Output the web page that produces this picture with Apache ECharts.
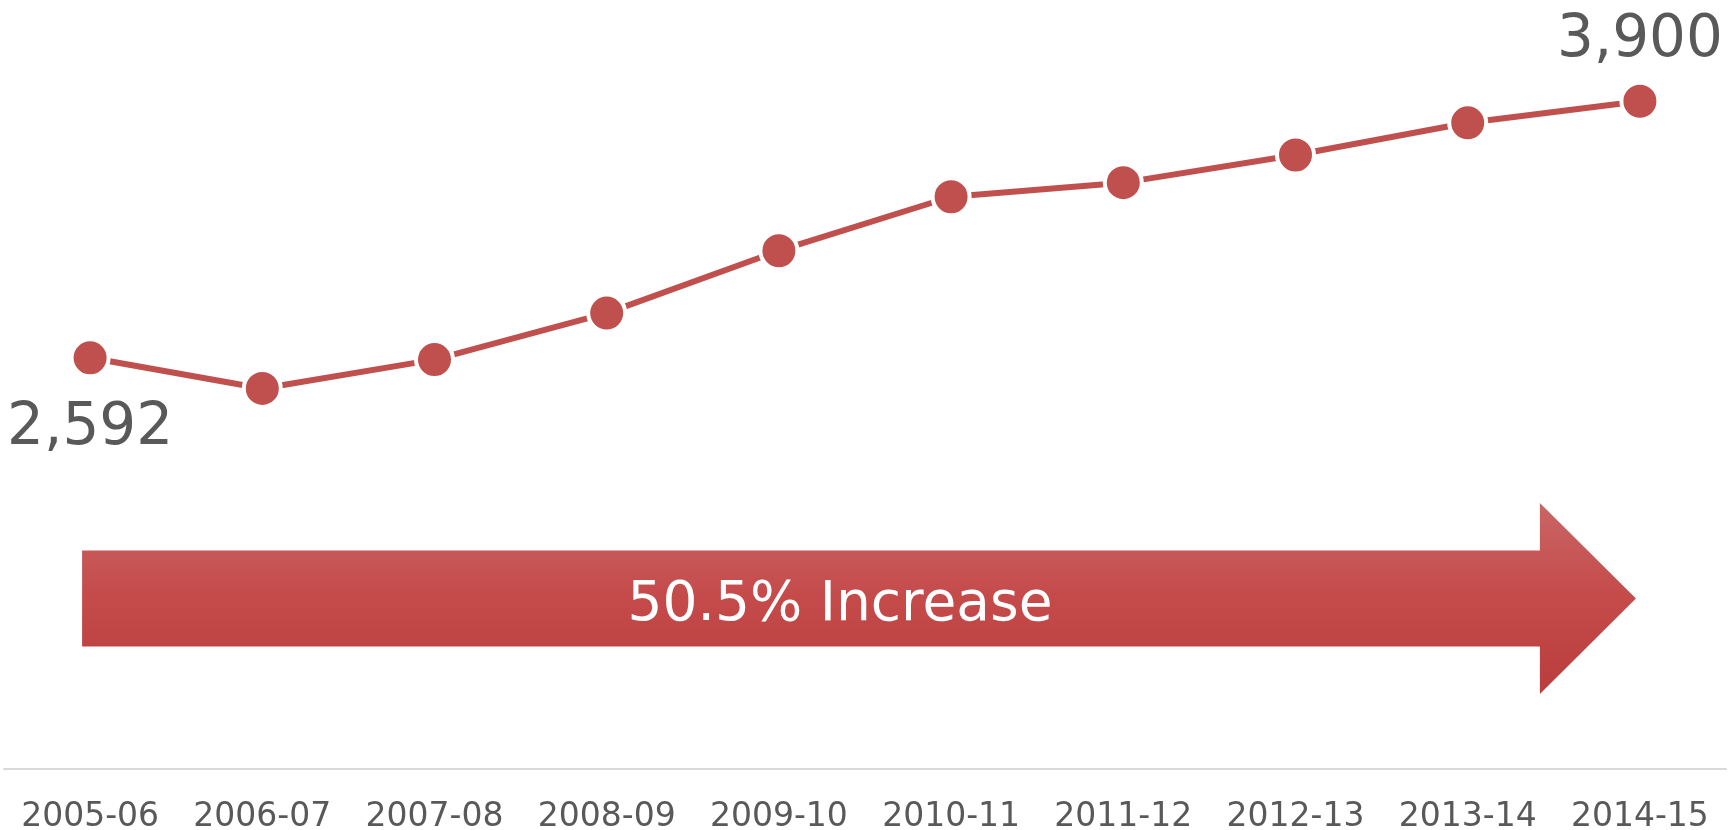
<!DOCTYPE html>
<html>
<head>
<meta charset="utf-8">
<title>Enrollment growth 2005-06 to 2014-15</title>
<script src="https://cdn.jsdelivr.net/npm/echarts@6/dist/echarts.min.js"></script>
<style>
  html, body { margin: 0; padding: 0; background: #ffffff; }
  #chart { width: 1735px; height: 830px; }
</style>
</head>
<body>
<div id="chart"></div>
<script>
// School years on the category axis
const years = ['2005-06', '2006-07', '2007-08', '2008-09', '2009-10',
               '2010-11', '2011-12', '2012-13', '2013-14', '2014-15'];

// Yearly totals
const totals = [2592, 2436, 2583, 2820, 3138, 3413, 3485, 3626, 3790, 3900];

const RED = '#C0504D';
const GREY_TEXT = '#595959';
const FONT = '"DejaVu Sans", "Liberation Sans", sans-serif';

const fmt = v => v.toLocaleString('en-US');

// Percent change from the first year to the last one
const first = totals[0];
const last = totals[totals.length - 1];
const pctChange = ((last - first) / first * 100).toFixed(1) + '% Increase';

// Only the end points carry a value label
const seriesData = totals.map((v, i) => {
  if (i === 0) {
    return { value: v, label: { show: true, position: 'bottom', distance: 22 } };
  }
  if (i === totals.length - 1) {
    return { value: v, label: { show: true, position: 'top', distance: 11 } };
  }
  return v;
});

const chart = echarts.init(document.getElementById('chart'), null, { renderer: 'canvas' });

const option = {
  animation: false,
  backgroundColor: '#ffffff',
  grid: {
    left: 4, right: 9, top: 0, bottom: 61,
    containLabel: false,
    outerBoundsMode: 'none'
  },
  xAxis: {
    type: 'category',
    data: years,
    boundaryGap: true,
    axisLine: { show: true, lineStyle: { color: '#D9D9D9', width: 2 } },
    axisTick: { show: false },
    axisLabel: {
      color: GREY_TEXT,
      fontFamily: FONT,
      fontSize: 33,
      margin: 32,
      interval: 0
    },
    splitLine: { show: false }
  },
  yAxis: {
    type: 'value',
    min: 496,
    max: 4416,
    show: false,
    splitLine: { show: false }
  },
  series: [{
    type: 'line',
    data: seriesData,
    symbol: 'circle',
    symbolSize: 37,
    lineStyle: { color: RED, width: 6 },
    itemStyle: { color: RED, borderColor: '#ffffff', borderWidth: 4 },
    label: {
      show: false,
      color: GREY_TEXT,
      fontFamily: FONT,
      fontSize: 58,
      formatter: p => fmt(p.value)
    },
    emphasis: { disabled: true },
    z: 5
  }]
};

chart.setOption(option);

// Block arrow spanning the first to the last year, with the percent change
function drawArrow() {
  const x0 = chart.convertToPixel({ xAxisIndex: 0 }, years[0]) - 8;
  const tip = chart.convertToPixel({ xAxisIndex: 0 }, years[years.length - 1]) - 4;
  const midY = 598.5;
  const bodyHalf = 48;
  const headHalf = 95.5;
  const headLen = 96;
  const neck = tip - headLen;
  chart.setOption({
    graphic: [
      {
        type: 'polygon',
        z: 1,
        shape: {
          points: [
            [x0, midY - bodyHalf],
            [neck, midY - bodyHalf],
            [neck, midY - headHalf],
            [tip, midY],
            [neck, midY + headHalf],
            [neck, midY + bodyHalf],
            [x0, midY + bodyHalf]
          ]
        },
        style: {
          fill: new echarts.graphic.LinearGradient(0, 0, 0, 1, [
            { offset: 0, color: '#C96665' },
            { offset: 0.5, color: '#C54A4A' },
            { offset: 1, color: '#B93D3D' }
          ])
        }
      },
      {
        type: 'text',
        z: 2,
        x: (x0 + neck) / 2 + 29,
        y: midY + 7,
        style: {
          text: pctChange,
          fill: '#ffffff',
          font: '55px ' + FONT,
          align: 'center',
          verticalAlign: 'middle'
        }
      }
    ]
  });
}
drawArrow();
</script>
</body>
</html>
